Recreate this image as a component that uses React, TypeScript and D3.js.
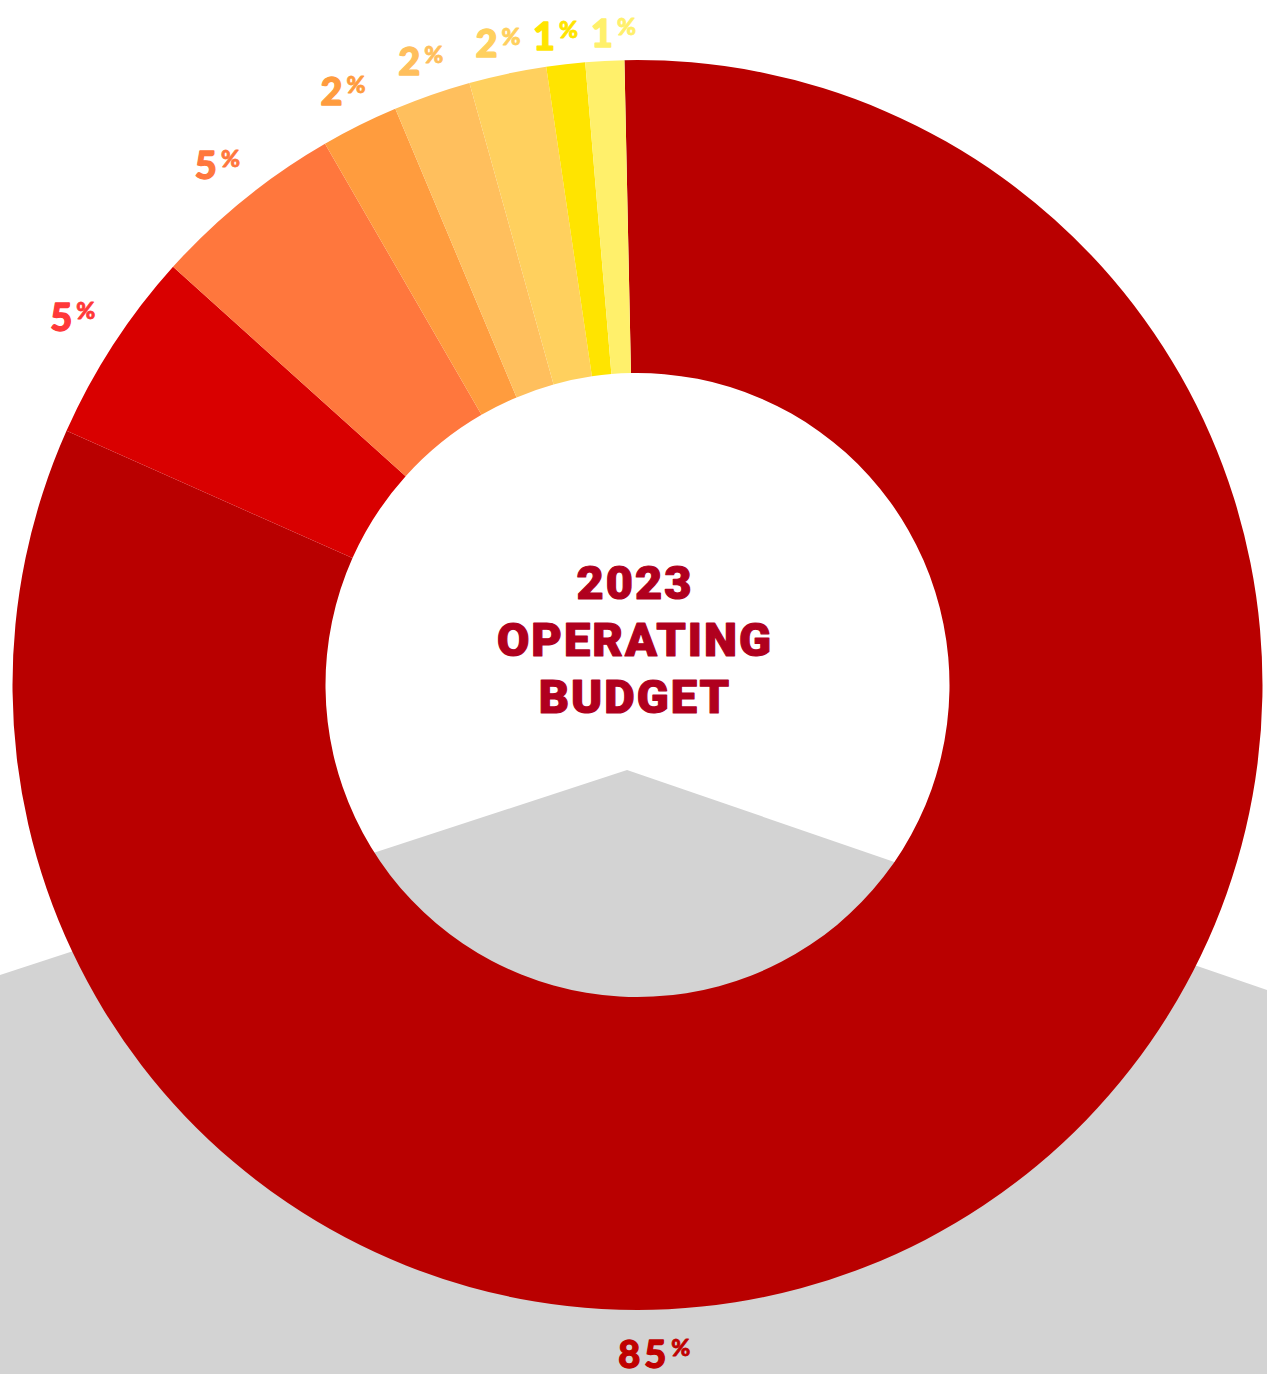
import React from "react";
import * as d3 from "d3";

const W = 1267;
const H = 1374;

// Slice shares (clockwise from 12 o'clock)
const values = [82, 5, 5, 2, 2, 2, 1, 1];
// Printed labels
const labels = ["85", "5", "5", "2", "2", "2", "1", "1"];
const sliceColors = ["#b90000", "#d90000", "#ff773d", "#ff9c3e", "#ffbf5d", "#ffd05e", "#ffe400", "#fff06b"];
const labelColors = ["#c00000", "#ff3838", "#ff773d", "#ff9c3e", "#ffbf5d", "#ffd05e", "#ffe400", "#fff06b"];
const titleLines = ["2023", "OPERATING", "BUDGET"];

const cx = 637.5;
const cy = 685;
const outerR = 625;
const innerR = 312;
const startDeg = -1.2;
const minLabelGap = 58;

export default function App() {
  const start = (startDeg * Math.PI) / 180;
  const pie = d3
    .pie<number>()
    .sort(null)
    .value((d) => d)
    .startAngle(start)
    .endAngle(start + Math.PI * 2);
  const arcs = pie(values);
  const arc = d3.arc<d3.PieArcDatum<number>>().innerRadius(innerR).outerRadius(outerR);

  // label placement: mid angle, then spread neighbours that are too close
  const lab = arcs.map((a, i) => {
    const mid = (a.startAngle + a.endAngle) / 2;
    const r = i === 0 ? 670 : 650 + 28 * Math.abs(Math.sin(mid));
    return { ang: i === 0 ? Math.PI * 0.992 : mid, r };
  });
  for (let iter = 0; iter < 5; iter++) {
    for (let i = 1; i < lab.length - 1; i++) {
      const a = lab[i];
      const b = lab[i + 1];
      const rr = (a.r + b.r) / 2;
      const dist = Math.abs(b.ang - a.ang) * rr;
      if (dist < minLabelGap) {
        const shift = (minLabelGap - dist) / 2 / rr;
        a.ang -= shift;
        b.ang += shift;
      }
    }
  }

  // background roof-shaped band
  const bg: [number, number][] = [
    [0, H * 0.7096],
    [W * 0.4949, H * 0.5604],
    [W, H * 0.7205],
    [W, H],
    [0, H],
  ];
  const bgPath = d3.line()(bg) + "Z";

  return (
    <svg
      width={W}
      height={H}
      viewBox={`0 0 ${W} ${H}`}
      style={{ position: "absolute", left: 0, top: 0, display: "block" }}
    >
      <rect x={0} y={0} width={W} height={H} fill="#ffffff" />
      <path d={bgPath} fill="#d3d3d3" />
      <g transform={`translate(${cx},${cy})`}>
        {arcs.map((a, i) => (
          <path key={i} d={arc(a) || ""} fill={sliceColors[i]} />
        ))}
        {lab.map((l, i) => {
          const x = Math.sin(l.ang) * l.r;
          const y = -Math.cos(l.ang) * l.r;
          return (
            <text
              key={"l" + i}
              x={x}
              y={y + 13}
              textAnchor="middle"
              fill={labelColors[i]}
              stroke={labelColors[i]}
              strokeWidth={1.3}
              strokeLinejoin="round"
              fontFamily="Lato, 'Open Sans', sans-serif"
              fontWeight={900}
              fontSize={38}
              letterSpacing={i === 0 ? 4 : 0}
            >
              <tspan>{labels[i]}</tspan>
              <tspan fontSize={23} dx={i === 0 ? 1 : 4} dy={-12} letterSpacing={0} strokeWidth={0.8}>
                %
              </tspan>
            </text>
          );
        })}
        {titleLines.map((t, i) => (
          <text
            key={"t" + i}
            x={-2.5}
            y={-86 + i * 57}
            textAnchor="middle"
            fill="#b0001e"
            stroke="#b0001e"
            strokeWidth={1.2}
            strokeLinejoin="round"
            fontFamily="Roboto, 'DejaVu Sans', sans-serif"
            fontWeight={900}
            fontSize={47}
            letterSpacing={2}
          >
            {t}
          </text>
        ))}
      </g>
    </svg>
  );
}
